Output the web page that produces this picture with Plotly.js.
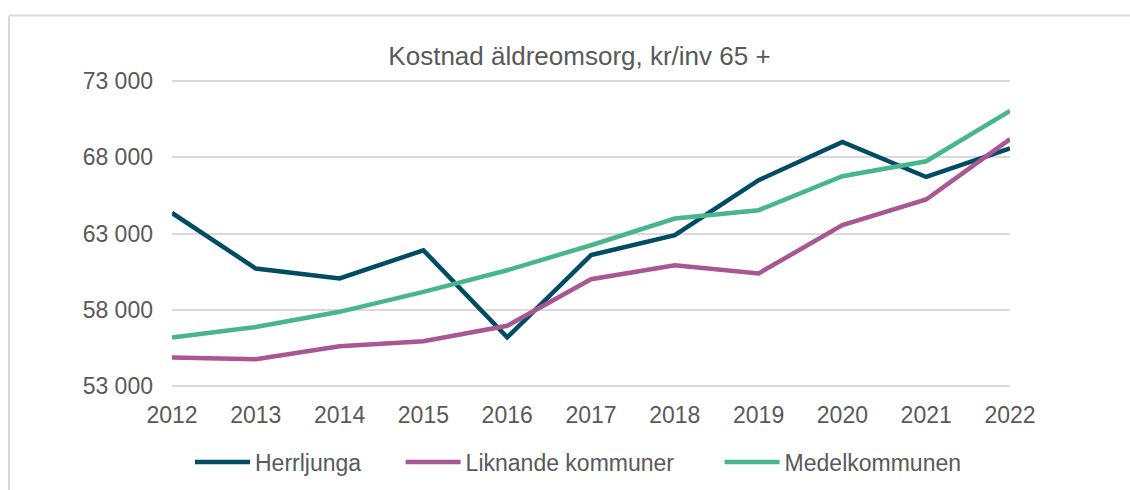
<!DOCTYPE html>
<html>
<head>
<meta charset="utf-8">
<script src="https://cdn.plot.ly/plotly-3.0.1.min.js"></script>
<style>
  html, body { margin: 0; padding: 0; background: #ffffff; }
  #chart { width: 1130px; height: 490px; }
</style>
</head>
<body>
<div id="chart"></div>
<script>
const years = [2012, 2013, 2014, 2015, 2016, 2017, 2018, 2019, 2020, 2021, 2022];
const herrljunga = [64350, 60700, 60050, 61900, 56180, 61580, 62890, 66500, 69010, 66710, 68580];
const liknande = [54860, 54750, 55600, 55930, 56940, 60000, 60920, 60380, 63550, 65230, 69190];
const medel = [56180, 56870, 57860, 59170, 60590, 62230, 63980, 64530, 66760, 67740, 71040];
const seriesNames = ["Herrljunga", "Liknande kommuner", "Medelkommunen"];
const titleText = "Kostnad äldreomsorg, kr/inv 65 +";

const colors = ["#004c65", "#a85694", "#47b68b"];
const font = "Liberation Sans, Arial, sans-serif";
const textColor = "#595959";
const legendIds = ["legend", "legend2", "legend3"];
const legendLeft = [190, 400.6, 719.6];

const data = [herrljunga, liknande, medel].map((vals, i) => ({
  x: years,
  y: vals,
  name: seriesNames[i],
  type: "scatter",
  mode: "lines",
  line: { color: colors[i], width: 4.5 },
  legend: legendIds[i],
  hoverinfo: "x+y+name"
}));

function legendCfg(i) {
  return {
    orientation: "h",
    xref: "container",
    yref: "container",
    x: legendLeft[i] / 1130,
    xanchor: "left",
    y: 1 - 462 / 490,
    yanchor: "middle",
    font: { family: font, size: 23, color: textColor },
    bgcolor: "rgba(0,0,0,0)",
    borderwidth: 0,
    itemwidth: 55
  };
}

const layout = {
  width: 1130,
  height: 490,
  paper_bgcolor: "#ffffff",
  plot_bgcolor: "#ffffff",
  separators: ", ",
  margin: { l: 172, r: 120, t: 78.6, b: 102.2 },
  title: {
    text: titleText,
    font: { family: font, size: 26, color: textColor },
    x: 579.5 / 1130,
    xref: "container",
    xanchor: "center",
    y: 1 - 56 / 490,
    yref: "container",
    yanchor: "middle"
  },
  xaxis: {
    range: [2012, 2022],
    tickmode: "linear",
    tick0: 2012,
    dtick: 1,
    showgrid: false,
    zeroline: false,
    showline: false,
    ticks: "",
    ticklabelstandoff: 11,
    tickfont: { family: font, size: 23, color: textColor }
  },
  yaxis: {
    range: [52860, 73140],
    tickmode: "linear",
    tick0: 53000,
    dtick: 5000,
    tickformat: ",d",
    showgrid: true,
    gridcolor: "#d9d9d9",
    gridwidth: 1.5,
    zeroline: false,
    showline: false,
    ticks: "",
    ticklabelstandoff: 18,
    tickfont: { family: font, size: 23, color: textColor }
  },
  showlegend: true,
  legend: legendCfg(0),
  legend2: legendCfg(1),
  legend3: legendCfg(2),
  shapes: [
    { type: "line", xref: "paper", yref: "paper",
      x0: (9 - 172) / 838, x1: (1130 - 172) / 838,
      y0: (387.8 - 15) / 309.2, y1: (387.8 - 15) / 309.2,
      line: { color: "#d9d9d9", width: 2 } },
    { type: "line", xref: "paper", yref: "paper",
      x0: (9 - 172) / 838, x1: (9 - 172) / 838,
      y0: (387.8 - 15) / 309.2, y1: (387.8 - 495) / 309.2,
      line: { color: "#d9d9d9", width: 2 } }
  ]
};

Plotly.newPlot("chart", data, layout, { displayModeBar: false, responsive: false });
</script>
</body>
</html>
